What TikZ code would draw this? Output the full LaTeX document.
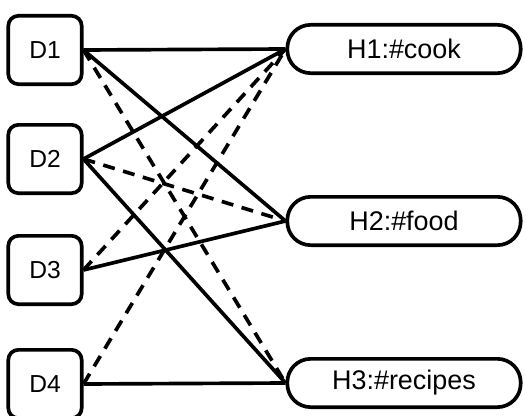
\documentclass[tikz,border=0pt]{standalone}
\usepackage{fontspec}
\setmainfont{Liberation Sans}
\tikzset{
  doc/.style={draw,line width=1.1mm,rounded corners=3mm,minimum width=22mm,minimum height=20.5mm,inner sep=0pt,font=\fontsize{21}{24}\selectfont},
  tag/.style={draw,line width=1.1mm,rounded corners=7mm,minimum width=70mm,minimum height=14.5mm,inner sep=0pt,font=\fontsize{23}{26}\selectfont},
  link/.style={line width=1.1mm},
  weak/.style={line width=1.1mm,dash pattern=on 3.6mm off 2.6mm}
}
\begin{document}
\begin{tikzpicture}[x=0.3mm,y=-0.3mm]
  \useasboundingbox (0,0) rectangle (526,415) ;
  \node [doc] (d1) at (45,50) {D1} ;
  \node [doc] (d2) at (45,159) {D2} ;
  \node [doc] (d3) at (45,270) {D3} ;
  \node [doc] (d4) at (45,384) {D4} ;
  \node [tag] (h1) at (404,49) {H1:\#cook} ;
  \node [tag] (h2) at (404,221) {H2:\#food} ;
  \node [tag] (h3) at (404,383) {H3:\#recipes} ;
  \draw [link] (d1.east) -- (h1.west) ;
  \draw [link] (d1.east) -- (h2.west) ;
  \draw [weak] (d1.east) -- (h3.west) ;
  \draw [link] (d2.east) -- (h1.west) ;
  \draw [weak] (d2.east) -- (h2.west) ;
  \draw [link] (d2.east) -- (h3.west) ;
  \draw [weak] (d3.east) -- (h1.west) ;
  \draw [link] (d3.east) -- (h2.west) ;
  \draw [weak] (d4.east) -- (h1.west) ;
  \draw [link] (d4.east) -- (h3.west) ;
\end{tikzpicture}
\end{document}
